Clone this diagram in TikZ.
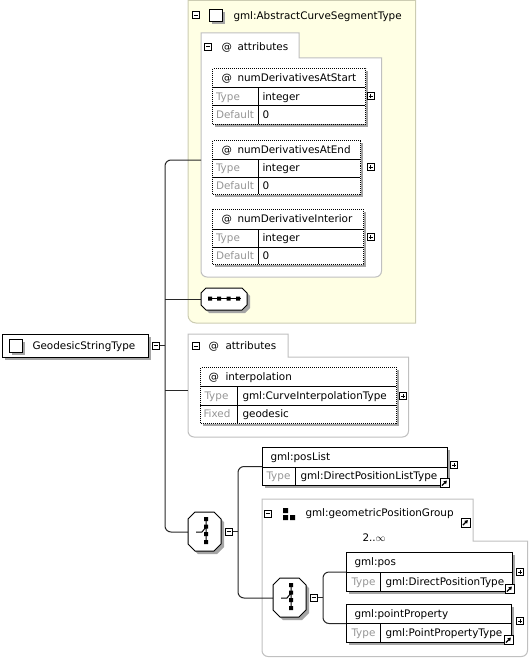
\documentclass[tikz,border=0pt]{standalone}
\usepackage{fontspec}
\setmainfont{DejaVu Sans}
\usetikzlibrary{arrows.meta}

% octagon outline: x1, y1, x2, y2, chamfer
\newcommand\octo[5]{(#1+#5,#2) -- (#3-#5,#2) -- (#3,#2+#5) -- (#3,#4-#5) -- (#3-#5,#4) -- (#1+#5,#4) -- (#1,#4-#5) -- (#1,#2+#5) -- cycle}

\tikzset{every picture/.style={line width=1pt}}
\tikzset{
  txt/.style={anchor=west, inner sep=0pt, text height=7.6pt, text depth=0pt, font=\fontsize{10.4}{12}\selectfont},
  lbl/.style={txt, text={rgb,255:red,150;green,150;blue,150}},
  shd/.style={fill={rgb,255:red,165;green,165;blue,165}},
  box/.style={draw, fill=white, inner sep=0pt, anchor=north west},
  attbox/.style={box, dash pattern=on 1pt off 1pt},
  frame/.style={draw={rgb,255:red,192;green,192;blue,192}, fill=white},
  ybox/.style={draw={rgb,255:red,204;green,204;blue,178}, fill={rgb,255:red,255;green,255;blue,228}},
  conn/.style={draw={rgb,255:red,40;green,40;blue,40}},
  pm/.style={draw, fill=white, inner sep=0pt, minimum size=7pt},
  minus/.style={pm, path picture={\draw (path picture bounding box.center) ++(-2,0) -- ++(4,0);}},
  plus/.style={pm, path picture={\draw (path picture bounding box.center) ++(-2,0) -- ++(4,0) (path picture bounding box.center) ++(0,-2) -- ++(0,4);}},
  lnk/.style={draw, fill=white, inner sep=0pt, minimum size=9pt, path picture={\draw[line width=1.3pt, -{Triangle[length=3.2pt,width=3.8pt]}] (path picture bounding box.center) ++(-2.6pt,-2.6pt) -- ++(5pt,5pt);}},
}

\begin{document}
\begin{tikzpicture}[x=1pt,y=1pt,yscale=-1]
\useasboundingbox (0,0) rectangle (530,658);

%Abstract type [yellow]
\draw[ybox] (188,0.5) -- (415.5,0.5) -- (415.5,323) [rounded corners=8] -- (188,323) [sharp corners] -- cycle;
\node[minus] (absminus) at (195.5,15.5) {};
\fill[shd] (212,12) rectangle (225,24);
\node[box, minimum width=13pt, minimum height=12pt] (absicon) at (209,9) {};
\node[txt] (abstitle) at (233,15.5) {gml:AbstractCurveSegmentType};

%attributes frame A
\draw[frame] (201,33) -- (299,33) -- (299,58) -- (381.5,58) [rounded corners=6] -- (381.5,277) -- (201,277) [sharp corners] -- cycle;
\node[minus] (attAminus) at (208,47) {};
\node[txt] (attAat) at (221,47) {@};
\node[txt] (attAtitle) at (237,47) {attributes};

%numDerivativesAtStart
\fill[shd] (215,71) rectangle (368,127);
\node[attbox, minimum width=153pt, minimum height=56pt] (startT) at (212,68) {};
\draw (212,88) -- (365,88) (212,106) -- (365,106) (258,88) -- (258,124);
\node[txt] (startAt) at (221,78) {@};
\node[txt] (startName) at (237,78) {numDerivativesAtStart};
\node[lbl] (startType) at (215.5,97) {Type};
\node[txt] (startTypeV) at (262,97) {integer};
\node[lbl] (startDef) at (215.5,115) {Default};
\node[txt] (startDefV) at (262,115) {0};
\node[plus] (startPlus) at (370.5,96.5) {};

%numDerivativesAtEnd
\fill[shd] (215,143) rectangle (363,197);
\node[attbox, minimum width=148pt, minimum height=54pt] (endT) at (212,140) {};
\draw (212,159) -- (360,159) (212,177) -- (360,177) (258,159) -- (258,194);
\node[txt] (endAt) at (221,149.5) {@};
\node[txt] (endName) at (237,149.5) {numDerivativesAtEnd};
\node[lbl] (endType) at (215.5,168) {Type};
\node[txt] (endTypeV) at (262,168) {integer};
\node[lbl] (endDef) at (215.5,185.5) {Default};
\node[txt] (endDefV) at (262,185.5) {0};
\node[plus] (endPlus) at (370.5,167) {};

%numDerivativeInterior
\fill[shd] (215,212) rectangle (366,267);
\node[attbox, minimum width=151pt, minimum height=55pt] (intT) at (212,209) {};
\draw (212,229) -- (363,229) (212,247) -- (363,247) (258,229) -- (258,264);
\node[txt] (intAt) at (221,219) {@};
\node[txt] (intName) at (237,219) {numDerivativeInterior};
\node[lbl] (intType) at (215.5,238) {Type};
\node[txt] (intTypeV) at (262,238) {integer};
\node[lbl] (intDef) at (215.5,255.5) {Default};
\node[txt] (intDefV) at (262,255.5) {0};
\node[plus] (intPlus) at (370.5,237) {};

%attributes frame B
\draw[frame] (188,334) -- (288,334) -- (288,357) -- (408.5,357) [rounded corners=6] -- (408.5,437) -- (188,437) [sharp corners] -- cycle;
\node[minus] (attBminus) at (195.5,346) {};
\node[txt] (attBat) at (208,346) {@};
\node[txt] (attBtitle) at (225,346) {attributes};

%interpolation
\fill[shd] (203,370) rectangle (399,426);
\node[attbox, minimum width=196pt, minimum height=56pt] (interpT) at (200,367) {};
\draw (200,386) -- (396,386) (200,405) -- (396,405) (237,386) -- (237,423);
\node[txt] (interpAt) at (208,376.5) {@};
\node[txt] (interpName) at (225,376.5) {interpolation};
\node[lbl] (interpType) at (204,395.5) {Type};
\node[txt] (interpTypeV) at (242,395.5) {gml:CurveInterpolationType};
\node[lbl] (interpFix) at (203,414) {Fixed};
\node[txt] (interpFixV) at (242,414) {geodesic};
\node[plus] (interpPlus) at (403,396) {};

%group frame
\draw[frame] (262,499) -- (473,499) -- (473,541) -- (527.5,541) [rounded corners=6] -- (527.5,656.5) -- (262,656.5) [sharp corners] -- cycle;
\node[minus] (grpminus) at (267.5,513.5) {};
\fill (283,508) rectangle (288,513) (283,515) rectangle (288,520) (290,515) rectangle (295,520);
\node[txt] (grptitle) at (305,513) {gml:geometricPositionGroup};
\node[lnk] (grplink) at (465.5,522.5) {};
\node[txt] (grpocc) at (362,537.5) {2..\(\infty\)};

%sequence anchors
\node[inner sep=0pt, minimum width=46pt, minimum height=22pt, anchor=north west] (seqS) at (201,288) {};
\node[inner sep=0pt, minimum width=33pt, minimum height=39pt, anchor=north west] (seqA) at (188,512) {};
\node[inner sep=0pt, minimum width=33pt, minimum height=39pt, anchor=north west] (seqB) at (273,578) {};

%main type
\fill[shd] (5,337) rectangle (151,360);
\node[box, minimum width=146pt, minimum height=23pt] (gst) at (2,334) {};
\fill[shd] (12,342) rectangle (25,355);
\node[box, minimum width=13pt, minimum height=13pt] (gsticon) at (9,339) {};
\node[txt] (gsttitle) at (32,345.5) {GeodesicStringType};
\node[minus] (gstminus) at (155.5,345.5) {};

%connectors
\coordinate (trunk) at (165,345.5);
\coordinate (attAin) at (201,160);
\coordinate (attBin) at (188,390);
\draw[conn] (gstminus.east) -- (trunk);
\draw[conn, rounded corners=6] (attAin) -| (trunk) |- (seqA.west);
\draw[conn] (trunk |- seqS.west) -- (seqS.west);
\draw[conn] (trunk |- attBin) -- (attBin);

%posList
\fill[shd] (265,450) rectangle (450,488);
\node[box, minimum width=185pt, minimum height=38pt] (posList) at (262,447) {};
\draw (262,467) -- (447,467) (295,467) -- (295,485);
\node[txt] (posListName) at (270,457) {gml:posList};
\node[lbl] (posListType) at (266,476) {Type};
\node[txt] (posListTypeV) at (300,476) {gml:DirectPositionListType};
\node[lnk] (posListLink) at (444.5,483) {};
\node[plus] (posListPlus) at (454,465) {};

%pos
\fill[shd] (349,555) rectangle (515,594);
\node[box, minimum width=166pt, minimum height=39pt] (pos) at (346,552) {};
\draw (346,572) -- (512,572) (380,572) -- (380,591);
\node[txt] (posName) at (354,562) {gml:pos};
\node[lbl] (posType) at (351,581.5) {Type};
\node[txt] (posTypeV) at (385,581.5) {gml:DirectPositionType};
\node[lnk] (posLink) at (509.5,589) {};
\node[plus] (posPlus) at (520,572) {};

%pointProperty
\fill[shd] (349,607) rectangle (514,645);
\node[box, minimum width=165pt, minimum height=38pt] (pointProp) at (346,604) {};
\draw (346,623) -- (511,623) (380,623) -- (380,642);
\node[txt] (pointPropName) at (354,613.5) {gml:pointProperty};
\node[lbl] (pointPropType) at (351,632.5) {Type};
\node[txt] (pointPropTypeV) at (385,632.5) {gml:PointPropertyType};
\node[lnk] (pointPropLink) at (508.5,640) {};
\node[plus] (pointPropPlus) at (520,621) {};

%branch connectors
\node[minus] (seqAminus) at (228.5,531.5) {};
\node[minus] (seqBminus) at (313.5,597.5) {};
\coordinate (brA) at (238,531.5);
\coordinate (brB) at (323,597.5);
\draw[conn] (seqAminus.east) -- (brA);
\draw[conn, rounded corners=6] (posList.west) -| (brA) |- (seqB.west);
\draw[conn] (seqBminus.east) -- (brB);
\draw[conn, rounded corners=6] (pos.west) -| (brB) |- (pointProp.west);

%octagons
\fill[shd, shift={(3,3)}] \octo{201}{288}{247}{310}{5};
\draw[fill=white] \octo{201}{288}{247}{310}{5};
\draw (208,298.5) -- (241,298.5);
\fill (208,296.5) rectangle ++(4,4) (217,296.5) rectangle ++(4,4) (226.5,296.5) rectangle ++(4,4) (236,296.5) rectangle ++(4,4);

\fill[shd, shift={(3,3)}] \octo{188}{512}{221}{551}{7};
\draw[fill=white] \octo{188}{512}{221}{551}{7};
\draw (206,518) -- (206,543) (196,532) -- (202,532) -- (206,527);
\fill (204,517) rectangle ++(4,4) (204,524.5) rectangle ++(4,4) (204,532) rectangle ++(4,4) (204,540) rectangle ++(4,4);

\fill[shd, shift={(3,3)}] \octo{273}{578}{306}{617}{7};
\draw[fill=white] \octo{273}{578}{306}{617}{7};
\draw (291,584) -- (291,609) (281,598) -- (287,598) -- (291,593);
\fill (289,583) rectangle ++(4,4) (289,590.5) rectangle ++(4,4) (289,598) rectangle ++(4,4) (289,606) rectangle ++(4,4);

\end{tikzpicture}
\end{document}
